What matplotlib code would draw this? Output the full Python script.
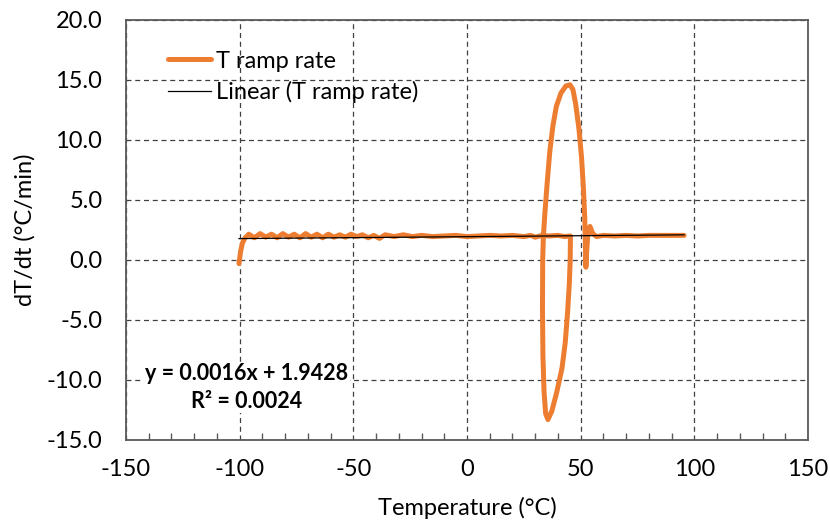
import numpy as np
import matplotlib
matplotlib.use('Agg')
import matplotlib.pyplot as plt
from matplotlib.ticker import MultipleLocator

plt.rcParams['font.family'] = ['Lato', 'DejaVu Sans']
plt.rcParams['axes.unicode_minus'] = False

# T ramp rate trace (temperature in degC, rate in degC/min)
temp = [-100.3, -99.6, -98.8, -97.8, -96.0, -93.5, -91.0, -88.5, -86.0, -83.5,
        -81.0, -78.5, -76.0, -73.5, -71.0, -68.5, -66.0, -63.5, -61.0, -58.5,
        -56.0, -53.5, -51.0, -48.5, -46.0, -43.5, -41.0, -38.5, -36.0,
        -32.0, -28.0, -24.0, -20.0, -15.0, -10.0, -5.0, 0.0, 5.0, 10.0,
        15.0, 20.0, 25.0, 28.0, 30.0, 33.0, 36.0, 40.0, 43.0, 45.5,
        45.4, 45.0, 44.2, 43.2, 41.8, 39.5, 37.3, 35.6, 34.6, 33.9,
        33.4, 33.2, 33.3, 33.6, 34.3, 35.3, 36.4, 37.8, 39.3, 41.3,
        43.5, 45.3, 46.6, 47.8, 49.2, 50.4, 51.2, 51.8, 52.1, 52.3,
        52.6, 53.2, 54.1, 55.3, 57.0, 60.0, 65.0, 70.0, 75.0, 80.0,
        85.0, 90.0, 95.5]
rate = [-0.3, 0.7, 1.4, 1.8, 2.15, 1.85, 2.2, 1.9, 2.15, 1.85,
        2.2, 1.9, 2.15, 1.85, 2.2, 1.9, 2.15, 1.85, 2.15, 1.9,
        2.1, 1.9, 2.15, 1.95, 2.1, 1.85, 2.05, 1.8, 2.1,
        1.95, 2.1, 1.95, 2.05, 1.95, 2.0, 2.05, 1.95, 2.0, 2.05,
        2.0, 2.05, 1.95, 2.05, 1.9, 2.05, 2.0, 2.05, 1.95, 2.0,
        0.0, -2.0, -4.5, -6.9, -9.0, -11.0, -12.6, -13.3, -12.8, -11.0,
        -8.0, -4.0, 0.0, 2.0, 4.0, 6.5, 9.0, 11.2, 12.8, 13.9,
        14.5, 14.6, 14.2, 13.0, 11.0, 8.5, 6.0, 3.5, 1.0, -0.6,
        0.6, 2.3, 2.8, 2.2, 1.95, 2.05, 2.0, 2.05, 2.0, 2.05,
        2.05, 2.05, 2.05]

slope = 0.0016
intercept = 1.9428
r_squared = 0.0024

orange = '#ED7D31'

fig = plt.figure(figsize=(8.3, 5.23), dpi=100)
ax = fig.add_axes([0.1518, 0.1587, 0.8217, 0.8031])

ax.plot(temp, rate, color=orange, lw=3.6, solid_capstyle='round',
        solid_joinstyle='round', label='T ramp rate', zorder=3)
trend_x = np.array([min(temp), max(temp)])
ax.plot(trend_x, slope * trend_x + intercept, color='black', lw=0.9,
        label='Linear (T ramp rate)', zorder=4)

ax.set_xlim(-150, 150)
ax.set_ylim(-15, 20)
ax.xaxis.set_major_locator(MultipleLocator(50))
ax.xaxis.set_minor_locator(MultipleLocator(10))
ax.yaxis.set_major_locator(MultipleLocator(5))
ax.yaxis.set_major_formatter(matplotlib.ticker.FormatStrFormatter('%.1f'))

ax.grid(True, which='major', color='#404040', lw=0.9, ls=(0, (4, 3)))
ax.tick_params(axis='x', which='major', direction='in', length=0, pad=14,
               labelsize=17, colors='#000000')
ax.tick_params(axis='x', which='minor', direction='in', length=5,
               color='#595959', width=1)
ax.tick_params(axis='y', which='major', length=0, pad=17, labelsize=17)
for s in ax.spines.values():
    s.set_color('#595959')
    s.set_linewidth(1.3)

ax.set_xlabel('Temperature (°C)', fontsize=17, labelpad=12)
ax.set_ylabel('dT/dt (°C/min)', fontsize=17, labelpad=8)

ax.legend(loc='upper left', bbox_to_anchor=(0.045, 0.955), frameon=False,
          fontsize=17, handlelength=1.8, handletextpad=0.2,
          labelspacing=0.4, borderpad=0)

ax.text(-96.8, -10.6, 'y = 0.0016x + 1.9428\nR² = 0.0024',
        ha='center', va='center', multialignment='center', fontsize=15.5,
        fontweight='bold', linespacing=1.4, zorder=5,
        bbox=dict(facecolor='white', edgecolor='none', pad=1))

fig.savefig('out.png', dpi=100)
